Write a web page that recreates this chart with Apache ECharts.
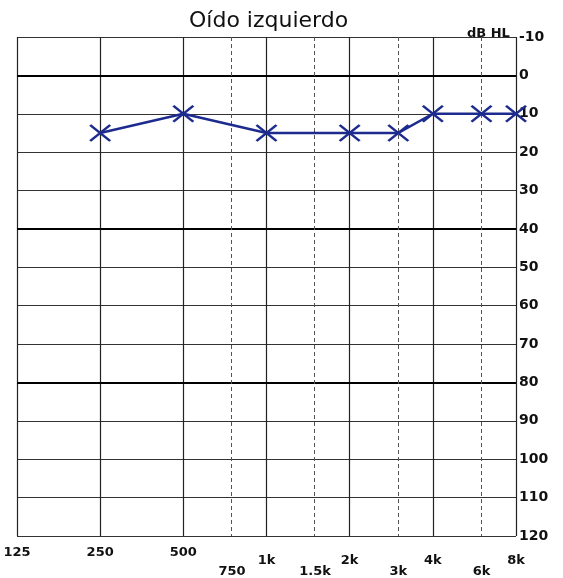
<!DOCTYPE html>
<html><head><meta charset="utf-8">
<script src="https://cdn.jsdelivr.net/npm/echarts@6/dist/echarts.min.js"></script>
<style>html,body{margin:0;padding:0;background:#fff}#c{width:563px;height:578px}</style>
</head><body><div id="c"></div>
<script>
// Data
const freqs = [250, 500, 1000, 2000, 3000, 4000, 6000, 8000];
const leftEarDb = [15, 10, 15, 15, 15, 10, 10, 10];
const octaveFreqs = [125, 250, 500, 1000, 2000, 4000, 8000];
const midFreqs = [750, 1500, 3000, 6000];
const lowRowFreqs = [125, 250, 500];
const freqLabels = {125:'125',250:'250',500:'500',750:'750',1000:'1k',1500:'1.5k',2000:'2k',3000:'3k',4000:'4k',6000:'6k',8000:'8k'};
const boldDb = [0, 40, 80];
const dbMin = -10, dbMax = 120, dbStep = 10;

// octave scale (log2 of frequency relative to 125 Hz)
const oct = f => Math.log2(f / 125);
const allLabelFreqs = octaveFreqs.concat(midFreqs).sort((a, b) => a - b);
const labelKeys = Object.keys(freqLabels).map(Number);

const chart = echarts.init(document.getElementById('c'));
const lineColor = '#1d2b8e';
const lbl = { fontSize: 13, fontWeight: 'bold', color: '#111', fontFamily: 'DejaVu Sans' };
chart.setOption({
  animation: false,
  backgroundColor: '#ffffff',
  textStyle: { fontFamily: 'DejaVu Sans' },
  title: [
    { text: 'Oído izquierdo', left: 184, top: 5, textStyle: { fontSize: 22, fontWeight: 'normal', color: '#111', fontFamily: 'DejaVu Sans' } },
    { text: 'dB HL', left: 462, top: 22, textStyle: { fontSize: 13, fontWeight: 'bold', color: '#111', fontFamily: 'DejaVu Sans' } }
  ],
  grid: { left: 17, right: 47, top: 37, bottom: 38 },
  xAxis: {
    type: 'value', min: 0, max: oct(8000), interval: 1,
    axisLine: { show: false }, axisTick: { show: false },
    splitLine: { show: true, lineStyle: { color: '#222', width: 1.2 } },
    axisLabel: {
      customValues: allLabelFreqs.map(oct),
      margin: 10,
      formatter: v => {
        const hz = 125 * Math.pow(2, v);
        const ff = labelKeys.reduce((a, b) => Math.abs(b - hz) < Math.abs(a - hz) ? b : a);
        const txt = freqLabels[ff];
        if (lowRowFreqs.includes(ff)) return '{a|' + txt + '}';
        if (midFreqs.includes(ff)) return '{c|' + txt + '}';
        return '{b|' + txt + '}';
      },
      rich: {
        a: Object.assign({ padding: [0, 0, 0, 0] }, lbl),
        b: Object.assign({ padding: [8, 0, 0, 0] }, lbl),
        c: Object.assign({ padding: [19, 0, 0, 0] }, lbl)
      }
    }
  },
  yAxis: {
    type: 'value', position: 'right', inverse: true,
    min: dbMin, max: dbMax, interval: dbStep,
    axisLine: { show: false }, axisTick: { show: false },
    splitLine: { show: true, lineStyle: { color: '#333', width: 1 } },
    axisLabel: { margin: 3, fontSize: 14, fontWeight: 'bold', color: '#111', fontFamily: 'DejaVu Sans' }
  },
  series: [{
    type: 'line',
    data: freqs.map((f, i) => [oct(f), leftEarDb[i]]),
    symbol: 'path://M0,0L10,10M10,0L0,10',
    symbolSize: [20, 16],
    showAllSymbol: true,
    lineStyle: { color: lineColor, width: 2.5 },
    itemStyle: { color: 'rgba(0,0,0,0)', borderColor: lineColor, borderWidth: 2.5 },
    z: 5,
    markLine: {
      silent: true, symbol: 'none', label: { show: false },
      data: boldDb.map(d => ({ yAxis: d, lineStyle: { color: '#000', width: 2.2, type: 'solid' } }))
        .concat(midFreqs.map(f => ({ xAxis: oct(f), lineStyle: { color: '#555', width: 1, type: [4, 3] } })))
    }
  }]
});
</script></body></html>
